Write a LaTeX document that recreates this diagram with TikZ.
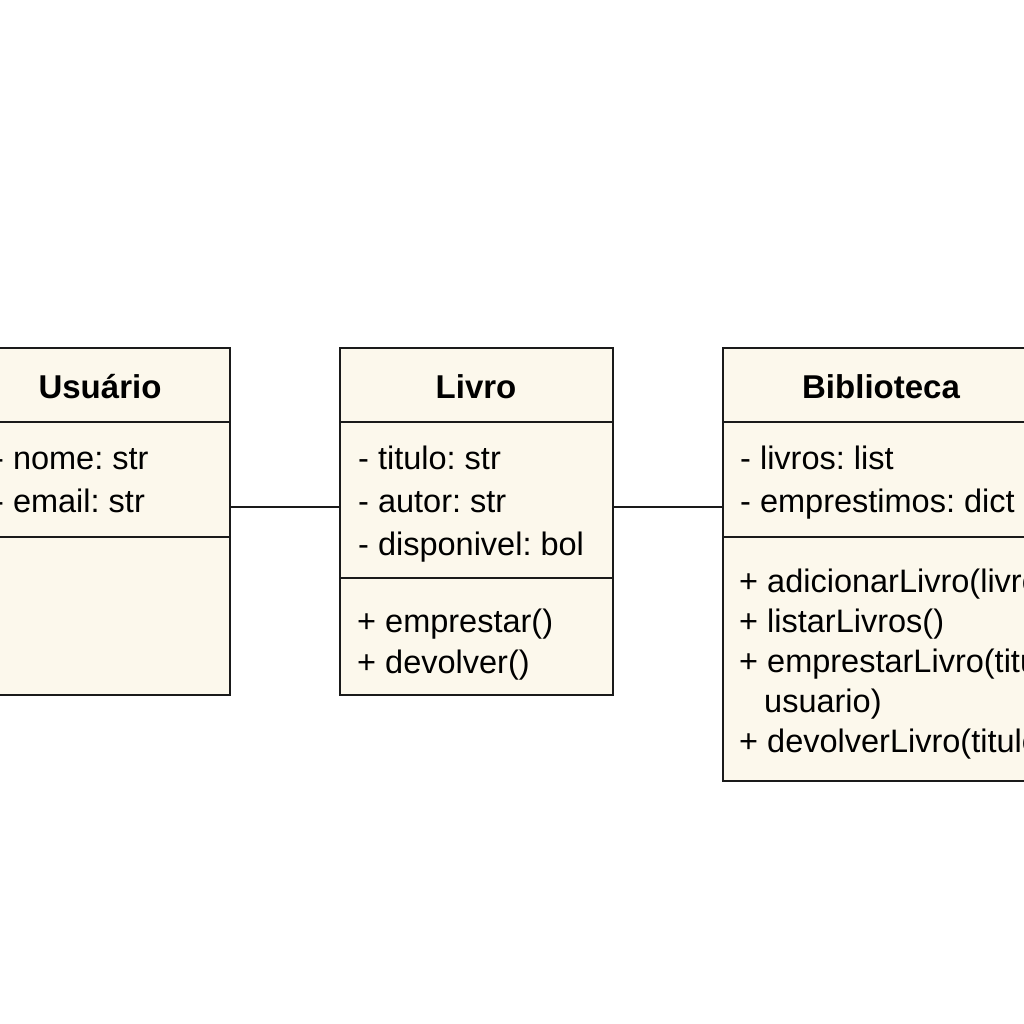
\documentclass[tikz,border=0pt]{standalone}
\usepackage{fontspec}
\setmainfont{Liberation Sans}
\frenchspacing
\definecolor{boxfill}{HTML}{FCF8EC}
\definecolor{edge}{HTML}{1A1A1A}
\begin{document}
\begin{tikzpicture}[x=1pt,y=-1pt,
  classbox/.style={draw=edge,line width=2.4pt,fill=boxfill,inner sep=0pt,outer sep=0pt,anchor=north west},
  divider/.style={draw=edge,line width=2.4pt},
  link/.style={draw=edge,line width=2.2pt},
  title/.style={font=\fontsize{33}{39}\selectfont\bfseries,inner sep=0pt,anchor=base},
  member/.style={font=\fontsize{32.5}{39}\selectfont,inner sep=0pt,anchor=base west}]
\useasboundingbox[fill=white] (0,0) rectangle (1024,1024);
% boxes
\node[classbox,minimum width=255pt,minimum height=347pt] (usu) at (-25,348) {};
\node[classbox,minimum width=273pt,minimum height=347pt] (liv) at (340,348) {};
\node[classbox,minimum width=320pt,minimum height=433pt] (bib) at (723,348) {};
% dividers
\coordinate (h1) at (0,422);
\coordinate (h2) at (0,537);
\coordinate (h3) at (0,578);
\draw[divider] (usu.west |- h1) -- (usu.east |- h1);
\draw[divider] (usu.west |- h2) -- (usu.east |- h2);
\draw[divider] (liv.west |- h1) -- (liv.east |- h1);
\draw[divider] (liv.west |- h3) -- (liv.east |- h3);
\draw[divider] (bib.west |- h1) -- (bib.east |- h1);
\draw[divider] (bib.west |- h2) -- (bib.east |- h2);
% connectors
\coordinate (c) at (0,507);
\draw[link] (usu.east |- c) -- (liv.west |- c);
\draw[link] (liv.east |- c) -- (bib.west |- c);
% titles
\node[title] (usuT) at (100,398) {Usuário};
\node[title] (livT) at (476,398) {Livro};
\node[title] (bibT) at (881,398) {Biblioteca};
% Usuario members
\node[member] (u1) at (-7,469) {- nome: str};
\node[member] (u2) at (-7,512) {- email: str};
% Livro members
\node[member] (l1) at (358,469) {- titulo: str};
\node[member] (l2) at (358,512) {- autor: str};
\node[member] (l3) at (358,555) {- disponivel: bol};
\node[member] (l4) at (357,632) {+ emprestar()};
\node[member] (l5) at (357,673) {+ devolver()};
% Biblioteca members
\node[member] (b1) at (740,469) {- livros: list};
\node[member] (b2) at (740,512) {- emprestimos: dict};
\node[member] (b3) at (739,592) {+ adicionarLivro(livro)};
\node[member] (b4) at (739,632) {+ listarLivros()};
\node[member] (b5) at (739,672) {+ emprestarLivro(titulo,};
\node[member] (b6) at (764,712) {usuario)};
\node[member] (b7) at (739,752) {+ devolverLivro(titulo)};
\end{tikzpicture}
\end{document}
